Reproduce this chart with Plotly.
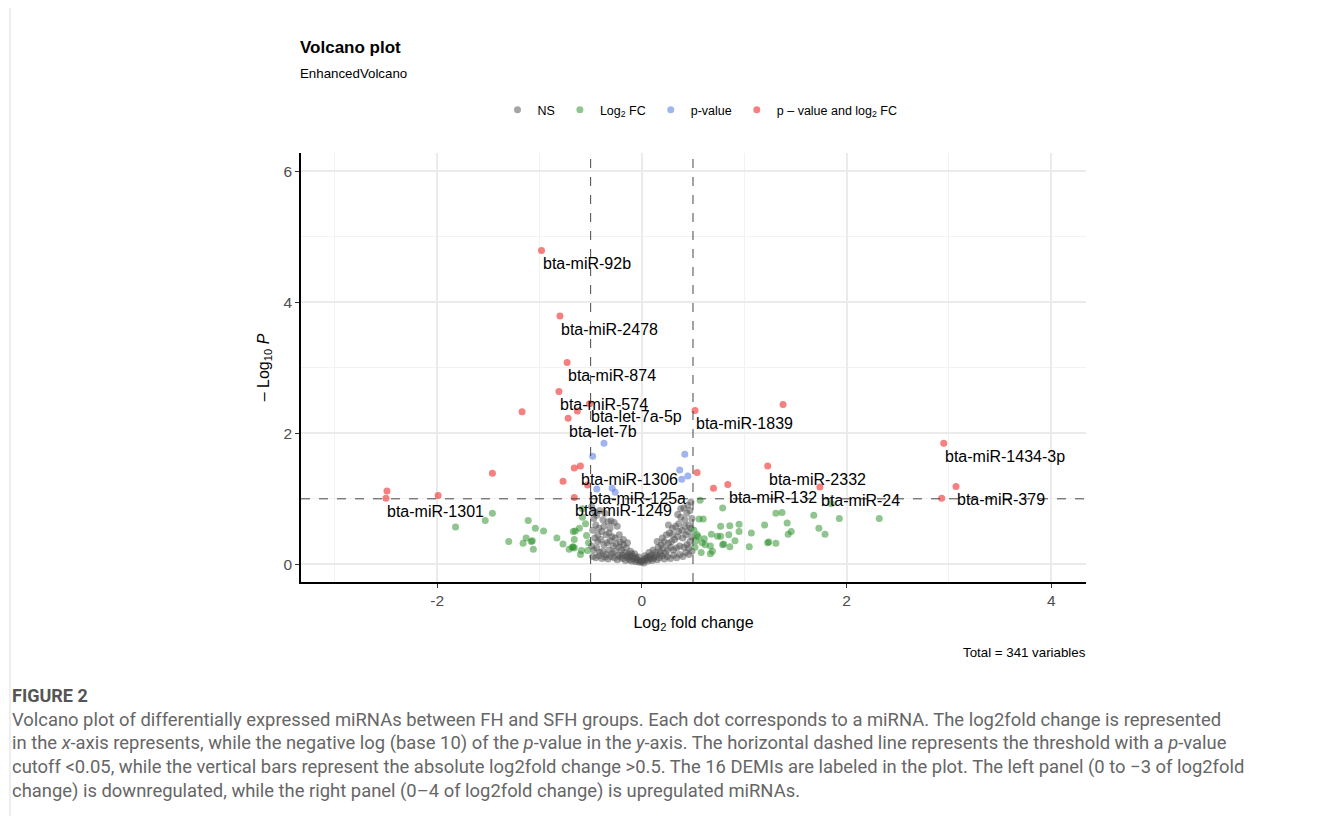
import plotly.graph_objects as go

# ---------------- data ----------------
# significant by p-value and log2 FC (red)
sig_names = ["bta-miR-92b", "bta-miR-2478", "bta-miR-874", "bta-miR-574", "bta-let-7a-5p",
             "bta-let-7b", "", "", "bta-miR-1839", "", "bta-miR-1434-3p", "bta-miR-2332",
             "bta-miR-379", "", "bta-miR-24", "bta-miR-132", "", "", "", "bta-miR-1301",
             "", "", "", "bta-miR-1306", "", "bta-miR-1249", "bta-miR-125a"]
sig_fc = [-0.98, -0.80, -0.73, -0.81, -0.51, -0.72, -0.63, -1.17, 0.52, 1.38, 2.95, 1.23,
          3.07, 2.93, 1.74, 0.84, 0.70, 0.54, -2.49, -2.50, -1.99, -1.46, -0.66, -0.60,
          -0.77, -0.66, -0.53]
sig_p = [4.79, 3.79, 3.08, 2.64, 2.45, 2.23, 2.34, 2.33, 2.35, 2.44, 1.85, 1.50,
         1.19, 1.01, 1.18, 1.22, 1.16, 1.40, 1.12, 1.01, 1.05, 1.39, 1.47, 1.50,
         1.27, 1.02, 1.21]

# p-value only (blue)
pv_fc = [-0.37, -0.48, 0.42, 0.37, 0.45, 0.39, -0.44, -0.26, -0.29]
pv_p = [1.85, 1.65, 1.68, 1.44, 1.35, 1.30, 1.15, 1.10, 1.16]

# log2 FC only (green)
fc_fc = [-1.82, -1.53, -1.46, -1.30, -1.16, -1.13, -1.11, -1.08, -1.06, -1.07, -1.04, -0.96,
         -0.83, -0.77, -0.71, -0.68, -0.67, -0.66, -0.67, -0.65, -0.66, -0.61, -0.58, -0.58,
         -0.54, -0.59, -0.60, -0.53, -0.52, -0.55,
         0.57, 0.79, 0.56, 0.60, 0.77, 0.86, 0.95, 1.20, 1.31, 1.37, 1.42, 1.46, 1.43, 1.68,
         1.73, 1.79, 1.93, 2.32, 1.85, 0.95, 0.85, 0.77, 0.74, 0.68, 1.07, 0.91, 0.79, 0.80,
         0.86, 1.05, 1.23, 1.24, 1.31, 0.54, 0.55, 0.61, 0.59, 0.62, 0.67, 0.52, 0.58, 0.67,
         0.69, 0.51, 0.53]
fc_p = [0.57, 0.67, 0.78, 0.35, 0.32, 0.40, 0.67, 0.35, 0.23, 0.36, 0.55, 0.51,
        0.40, 0.31, 0.23, 0.26, 0.27, 0.25, 0.50, 0.51, 0.38, 0.55, 0.72, 0.85,
        0.44, 0.21, 0.15, 0.21, 0.33, 0.62,
        0.98, 0.86, 0.69, 0.69, 0.58, 0.59, 0.61, 0.60, 0.78, 0.79, 0.63, 0.50, 0.46, 0.75,
        0.55, 0.46, 0.70, 0.70, 0.93, 0.50, 0.45, 0.43, 0.43, 0.46, 0.48, 0.36, 0.30, 0.31,
        0.27, 0.27, 0.33, 0.34, 0.32, 0.45, 0.42, 0.39, 0.33, 0.30, 0.28, 0.26, 0.18, 0.16,
        0.20, 0.52, 0.36]

# not significant (grey)
ns_fc = [-0.49, -0.46, -0.47, -0.44, -0.41, -0.38, -0.36, -0.33, -0.30, -0.27, -0.24, -0.45,
         -0.42, -0.39, -0.48, -0.35, -0.32, -0.29, -0.26, -0.22, -0.46, -0.43, -0.40, -0.37,
         -0.34, -0.31, -0.28, -0.25, -0.21, -0.18, -0.49, -0.47, -0.44, -0.41, -0.38, -0.35,
         -0.32, -0.29, -0.26, -0.23, -0.20, -0.17, -0.15, -0.13, -0.11, -0.09, -0.07, -0.05,
         -0.03, -0.01, -0.48, -0.45, -0.42, -0.39, -0.36, -0.33, -0.30, -0.27, -0.24, -0.21,
         -0.19, -0.16, -0.14, -0.12, -0.10, -0.08, -0.06, -0.04, -0.02, -0.15, -0.19, -0.12,
         -0.10, -0.06, -0.22, -0.18, -0.14, -0.43, -0.37, -0.31,
         0.48, 0.45, 0.47, 0.44, 0.41, 0.38, 0.42, 0.36, 0.33, 0.30, 0.39, 0.46, 0.49, 0.27,
         0.24, 0.35, 0.43, 0.40, 0.32, 0.29, 0.26, 0.22, 0.19, 0.47, 0.44, 0.41, 0.37, 0.34,
         0.31, 0.28, 0.25, 0.21, 0.18, 0.16, 0.13, 0.11, 0.09, 0.07, 0.05, 0.03, 0.01, 0.49,
         0.46, 0.43, 0.40, 0.37, 0.34, 0.31, 0.28, 0.25, 0.22, 0.20, 0.17, 0.15, 0.12, 0.10,
         0.08, 0.06, 0.04, 0.02, 0.00, 0.14, 0.18, 0.23, 0.11, 0.07, 0.03, 0.20, 0.15, 0.26,
         0.36, 0.30, 0.48, 0.42, 0.38, 0.35, 0.45, 0.49, 0.46]
ns_p = [0.88, 0.80, 0.70, 0.75, 0.82, 0.68, 0.78, 0.65, 0.66, 0.64, 0.58, 0.60,
        0.55, 0.50, 0.52, 0.45, 0.48, 0.42, 0.40, 0.45, 0.40, 0.35, 0.38, 0.30,
        0.33, 0.36, 0.28, 0.31, 0.34, 0.30, 0.28, 0.22, 0.25, 0.18, 0.20, 0.15,
        0.22, 0.17, 0.20, 0.14, 0.22, 0.18, 0.25, 0.15, 0.20, 0.12, 0.16, 0.08,
        0.11, 0.05, 0.12, 0.10, 0.13, 0.09, 0.11, 0.08, 0.12, 0.10, 0.07, 0.11,
        0.09, 0.06, 0.10, 0.07, 0.05, 0.08, 0.04, 0.06, 0.03, 0.13, 0.14, 0.12,
        0.16, 0.11, 0.26, 0.38, 0.33, 0.45, 0.58, 0.55,
        0.95, 0.90, 0.82, 0.78, 0.86, 0.72, 0.68, 0.62, 0.58, 0.55, 0.52, 0.60, 0.70, 0.48,
        0.45, 0.42, 0.45, 0.40, 0.38, 0.35, 0.32, 0.35, 0.30, 0.35, 0.30, 0.26, 0.28, 0.25,
        0.22, 0.26, 0.22, 0.25, 0.20, 0.26, 0.18, 0.22, 0.14, 0.18, 0.10, 0.13, 0.06, 0.20,
        0.15, 0.18, 0.12, 0.15, 0.10, 0.14, 0.09, 0.12, 0.08, 0.13, 0.10, 0.07, 0.11, 0.06,
        0.09, 0.05, 0.07, 0.02, 0.04, 0.14, 0.16, 0.17, 0.09, 0.12, 0.09, 0.40, 0.35, 0.60,
        0.50, 0.45, 0.55, 0.58, 0.85, 0.76, 0.50, 0.42, 0.25]

legend_names = ["NS", "Log<sub>2</sub> FC", "p-value", "p – value and log<sub>2</sub> FC"]
fc_cutoff = 0.5
p_line = 1.0
x_ticks = [-2, 0, 2, 4]
y_ticks = [0, 2, 4, 6]

caption_lines = [
    "Volcano plot of differentially expressed miRNAs between FH and SFH groups. Each dot corresponds to a miRNA. The log2fold change is represented",
    "in the <i>x</i>-axis represents, while the negative log (base 10) of the <i>p</i>-value in the <i>y</i>-axis. The horizontal dashed line represents the threshold with a <i>p</i>-value",
    "cutoff &lt;0.05, while the vertical bars represent the absolute log2fold change &gt;0.5. The 16 DEMIs are labeled in the plot. The left panel (0 to \u22123 of log2fold",
    "change) is downregulated, while the right panel (0\u20134 of log2fold change) is upregulated miRNAs.",
]

# ---------------- figure ----------------
OFF = 8  # page body margin of the html page
W, H = 1331 - OFF, 821 - OFF
L, R, T, B = 301 - OFF, 1086 - OFF, 153 - OFF, 582 - OFF
FONT = "Liberation Sans, Arial, Helvetica, sans-serif"


def px2paper(px, py):
    # px, py are page pixel positions of the reference picture
    return (px - OFF - L) / (R - L), (B - (py - OFF)) / (B - T)


fig = go.Figure()
series = [
    (ns_fc, ns_p, "#4D4D4D", legend_names[0]),
    (fc_fc, fc_p, "#228B22", legend_names[1]),
    (pv_fc, pv_p, "#4169E1", legend_names[2]),
    (sig_fc, sig_p, "#EE0000", legend_names[3]),
]
for xs, ys, col, nm in series:
    fig.add_trace(go.Scatter(x=xs, y=ys, mode="markers", name=nm,
                             marker=dict(color=col, size=7, opacity=0.5, line=dict(width=0))))

# labels
for nm, xv, yv in zip(sig_names, sig_fc, sig_p):
    if nm:
        fig.add_annotation(x=xv, y=yv, text=nm, showarrow=False, xanchor="left", yanchor="middle",
                           yshift=-13, xshift=-1, font=dict(family=FONT, size=16, color="black"))

# cutoff lines
for xv in (-fc_cutoff, fc_cutoff):
    fig.add_shape(type="line", xref="x", yref="paper", x0=xv, x1=xv, y0=0, y1=1,
                  line=dict(color="#333333", width=0.9, dash="dash"))
fig.add_shape(type="line", xref="paper", yref="y", x0=0, x1=1, y0=p_line, y1=p_line,
              line=dict(color="#333333", width=0.9, dash="dash"))

axis_common = dict(showline=True, linecolor="black", linewidth=1.6, ticks="outside", ticklen=4,
                   tickcolor="#333333", tickfont=dict(family=FONT, size=15.5, color="#4D4D4D"),
                   showgrid=True, gridcolor="#EBEBEB", gridwidth=1.6, zeroline=False,
                   minor=dict(dtick=1, showgrid=True, gridcolor="#F2F2F2", gridwidth=1.0, ticks=""))
fig.update_xaxes(range=[-3.33, 4.34], tickvals=x_ticks, ticktext=[str(v) for v in x_ticks],
                 title=dict(text="Log<sub>2</sub> fold change", font=dict(family=FONT, size=16, color="black"),
                            standoff=8),
                 **axis_common)
fig.update_yaxes(range=[-0.27, 6.28], tickvals=y_ticks, ticktext=[str(v) for v in y_ticks],
                 title=dict(text="\u2013 Log<sub>10</sub> <i>P</i>", font=dict(family=FONT, size=16, color="black"),
                            standoff=10),
                 **axis_common)
fig.update_xaxes(minor=dict(tick0=-3))
fig.update_yaxes(minor=dict(tick0=1))


# titles and texts
def add_text(px, py, text, size, color="black", xanchor="left", yanchor="middle", bold=False, family=FONT):
    xp, yp = px2paper(px, py)
    fig.add_annotation(xref="paper", yref="paper", x=xp, y=yp, text=f"<b>{text}</b>" if bold else text,
                       showarrow=False, xanchor=xanchor, yanchor=yanchor, align="left",
                       font=dict(family=family, size=size, color=color))


add_text(298, 48, "Volcano plot", 17, bold=True)
add_text(298, 73, "EnhancedVolcano", 13.3)
add_text(1088, 652, "Total = 341 variables", 13.3, xanchor="right")

CAP_FONT = "Roboto, Arial, sans-serif"
add_text(10, 695, "FIGURE 2", 18, color="#555555", family=CAP_FONT, bold=True)
for i, line in enumerate(caption_lines):
    add_text(10, 719 + 24 * i, line, 18.4, color="#666666", family=CAP_FONT)

# page border line
bx = px2paper(10, 0)[0]
fig.add_shape(type="line", xref="paper", yref="paper",
              x0=bx, x1=bx, y0=px2paper(0, 8)[1], y1=px2paper(0, 816)[1],
              line=dict(color="#DDDDDD", width=1))

lx, ly = px2paper(700, 110)
fig.update_layout(
    width=W, height=H, autosize=False,
    margin=dict(l=L, r=W - R, t=T, b=H - B),
    paper_bgcolor="white", plot_bgcolor="white",
    font=dict(family=FONT, color="black"),
    showlegend=True,
    legend=dict(orientation="h", x=lx, y=ly, xanchor="center", yanchor="middle",
                font=dict(family=FONT, size=12.5, color="black"), itemwidth=30,
                bgcolor="rgba(0,0,0,0)"),
)

fig.write_html("out.html")
